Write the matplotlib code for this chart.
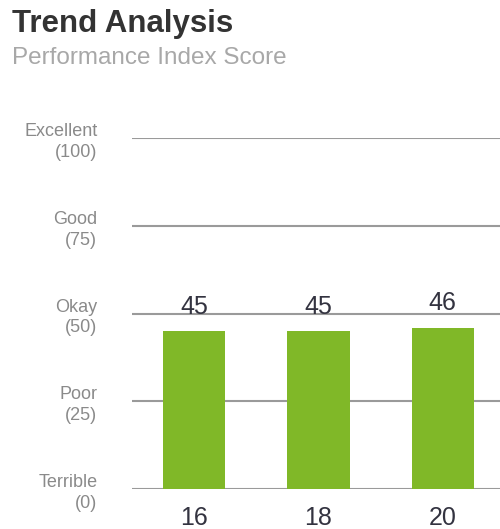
import matplotlib.pyplot as plt

plt.rcParams['font.family'] = ['Liberation Sans', 'DejaVu Sans']

categories = ['16', '18', '20']
scores = [45, 45, 46]
level_values = [0, 25, 50, 75, 100]
level_labels = ['Terrible\n(0)', 'Poor\n(25)', 'Okay\n(50)', 'Good\n(75)', 'Excellent\n(100)']

W, H = 500, 529
fig = plt.figure(figsize=(W / 100, H / 100), dpi=100)
ax = fig.add_axes([132 / W, 40 / H, 1 - 132 / W, (489 - 138) / H])

x = range(len(categories))
ax.bar(x, scores, width=0.5, color='#80b828', zorder=2)

for v in level_values:
    ax.axhline(v, color='#9a9a9a', lw=1.5, zorder=1)

for xi, s in zip(x, scores):
    ax.text(xi, s + 5, str(s), ha='center', va='baseline', fontsize=18, color='#333340')

ax.set_xlim(-0.5, 2.46)
ax.set_ylim(0, 100)
ax.set_xticks(list(x))
ax.set_xticklabels(categories, fontsize=18, color='#333340')
ax.tick_params(axis='x', length=0, pad=12)
ax.set_yticks(level_values)
ax.set_yticklabels(level_labels, fontsize=13, color='#8a8a8a', linespacing=1.3)
ax.tick_params(axis='y', length=0, pad=25)
for lab in ax.get_yticklabels():
    lab.set_horizontalalignment('right')
    lab.set_multialignment('right')
for sp in ax.spines.values():
    sp.set_visible(False)

fig.text(12 / W, 1 - 32 / H, 'Trend Analysis', fontsize=22.5, fontweight='bold',
         color='#333333', va='baseline', ha='left')
fig.text(12 / W, 1 - 64 / H, 'Performance Index Score', fontsize=17.5,
         color='#a8a8a8', va='baseline', ha='left')

fig.savefig('out.png', dpi=100)
